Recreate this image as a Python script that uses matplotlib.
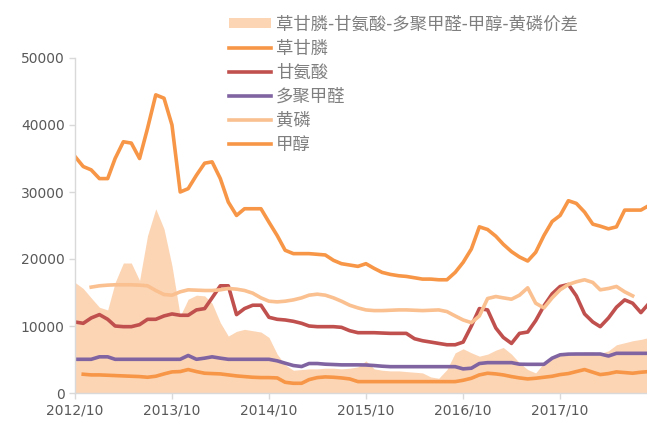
import matplotlib
matplotlib.use("Agg")
import matplotlib.pyplot as plt
import matplotlib.dates as mdates
import numpy as np
import pandas as pd

plt.rcParams['font.family'] = ['Noto Sans CJK SC', 'DejaVu Sans']

# monthly readings, 2012/10 .. 2018/09 (prices, yuan/t)
dates = pd.date_range('2012-10-01', periods=72, freq='MS')

glyphosate = [35300, 33800, 33300, 32000, 32000, 35000, 37500, 37300, 35000, 39500,
              44500, 44000, 40000, 30000, 30500, 32500, 34300, 34500, 32000, 28500,
              26500, 27500, 27500, 27500, 25500, 23500, 21300, 20800, 20800, 20800,
              20700, 20600, 19800, 19300, 19100, 18900, 19300, 18600, 18000, 17700,
              17500, 17400, 17200, 17000, 17000, 16900, 16900, 18000, 19500, 21500,
              24800, 24400, 23400, 22200, 21100, 20300, 19700, 21000, 23500, 25600,
              26500, 28700, 28300, 27000, 25200, 24900, 24500, 24800, 27300, 27300,
              27300, 28000]

glycine = [10600, 10400, 11200, 11700, 11000, 10000, 9900, 9900, 10200, 11000,
           11000, 11500, 11800, 11600, 11600, 12400, 12600, 14200, 16000, 16000,
           11700, 12600, 13100, 13100, 11300, 11000, 10900, 10700, 10400, 10000,
           9900, 9900, 9900, 9800, 9300, 9000, 9000, 9000, 8950, 8900,
           8900, 8900, 8100, 7800, 7600, 7400, 7200, 7200, 7600, 10000,
           12600, 12400, 9700, 8300, 7400, 8900, 9100, 10800, 13000, 14800,
           15900, 16200, 14500, 11800, 10600, 9900, 11200, 12800, 13900, 13400,
           12000, 13400]

paraformaldehyde = [5030, 5030, 5030, 5400, 5400, 5030, 5030, 5030, 5030, 5030,
                    5030, 5030, 5030, 5030, 5600, 5030, 5200, 5400, 5200, 5030,
                    5030, 5030, 5030, 5030, 5030, 4800, 4450, 4100, 3950, 4400,
                    4400, 4300, 4250, 4200, 4200, 4200, 4180, 4100, 4000, 3930,
                    3930, 3930, 3930, 3930, 3930, 3930, 3930, 3930, 3600, 3700,
                    4400, 4530, 4530, 4530, 4530, 4300, 4280, 4280, 4280, 5200,
                    5700, 5800, 5820, 5820, 5820, 5820, 5520, 5920, 5920, 5920,
                    5920, 5920]

yellow_phosphorus = [np.nan, np.nan, 15800, 16000, 16100, 16150, 16150, 16150, 16100, 16000,
                     15300, 14700, 14600, 15100, 15400, 15350, 15300, 15300, 15400, 15600,
                     15500, 15300, 14900, 14200, 13700, 13600, 13700, 13900, 14200, 14600,
                     14750, 14600, 14200, 13700, 13100, 12700, 12400, 12300, 12300, 12350,
                     12400, 12400, 12350, 12300, 12350, 12400, 12150, 11500, 10900, 10500,
                     11500, 14100, 14400, 14200, 14000, 14600, 15700, 13400, 12700, 14200,
                     15400, 16200, 16600, 16900, 16500, 15400, 15600, 15900, 15100, 14500,
                     np.nan, np.nan]

methanol = [np.nan, 2800, 2700, 2700, 2650, 2600, 2550, 2500, 2450, 2350,
            2500, 2850, 3150, 3200, 3500, 3200, 2950, 2900, 2850, 2700,
            2550, 2450, 2350, 2300, 2300, 2250, 1600, 1450, 1450, 2000,
            2300, 2400, 2350, 2250, 2100, 1700, 1700, 1700, 1700, 1700,
            1700, 1700, 1700, 1700, 1700, 1700, 1700, 1700, 1900, 2200,
            2700, 2950, 2850, 2700, 2450, 2250, 2100, 2200, 2350, 2500,
            2750, 2900, 3200, 3500, 3100, 2750, 2900, 3150, 3050, 2950,
            3100, 3200]

spread = [16500, 15600, 14200, 12800, 12400, 16500, 19400, 19400, 16800, 23500,
          27500, 24500, 19000, 11500, 14000, 14600, 14500, 13400, 10500, 8500,
          9200, 9500, 9300, 9100, 8300, 5800, 4200, 3400, 3500, 3600,
          3600, 3700, 3700, 3600, 3700, 3900, 4800, 3600, 3400, 3300,
          3300, 3200, 3100, 3000, 2400, 2200, 3500, 6000, 6600, 6000,
          5500, 5800, 6400, 6800, 5800, 4500, 3500, 3000, 4500, 5200,
          5600, 5600, 5800, 6100, 6100, 5900, 6300, 7200, 7500, 7800,
          8000, 8300]

labels = ['草甘膦-甘氨酸-多聚甲醛-甲醇-黄磷价差', '草甘膦', '甘氨酸', '多聚甲醛', '黄磷', '甲醇']

fig = plt.figure(figsize=(6.47, 4.23), dpi=100)
ax = fig.add_axes([75 / 647, 1 - 393 / 423, 572 / 647, 335 / 423])

lw = 2.6
area = ax.fill_between(dates, 0, spread, color='#FCD5B5', lw=0, label=labels[0])
l1, = ax.plot(dates, glyphosate, color='#F79646', lw=lw, label=labels[1])
l2, = ax.plot(dates, glycine, color='#C0504D', lw=lw, label=labels[2])
l3, = ax.plot(dates, paraformaldehyde, color='#8064A2', lw=lw, label=labels[3])
l4, = ax.plot(dates, yellow_phosphorus, color='#FAC090', lw=lw, label=labels[4])
l5, = ax.plot(dates, methanol, color='#F79646', lw=lw, label=labels[5])

ax.set_ylim(0, 50000)
ax.set_yticks(range(0, 50001, 10000))
ax.set_xlim(pd.Timestamp('2012-10-01'), pd.Timestamp('2018-08-24'))
ax.set_xticks(pd.date_range('2012-10-01', periods=6, freq='12MS'))
ax.xaxis.set_major_formatter(mdates.DateFormatter('%Y/%m'))

for side in ['top', 'right']:
    ax.spines[side].set_visible(False)
for side in ['left', 'bottom']:
    ax.spines[side].set_color('#D9D9D9')
    ax.spines[side].set_linewidth(1.0)
ax.tick_params(axis='both', colors='#D9D9D9', length=4, width=1.0,
               labelcolor='#595959', labelsize=10)
for t in ax.get_xticklabels() + ax.get_yticklabels():
    t.set_family('DejaVu Sans')

leg = fig.legend(handles=[area, l1, l2, l3, l4, l5], labels=labels,
                 loc='upper left', bbox_to_anchor=(229 / 647, 1 - 15.5 / 423),
                 frameon=False, fontsize=12.5, handlelength=2.4, handleheight=0.5,
                 handletextpad=0.3, labelspacing=0.35, borderpad=0, borderaxespad=0)
for t in leg.get_texts():
    t.set_color('#7F7F7F')

fig.savefig('out.png', dpi=100)
